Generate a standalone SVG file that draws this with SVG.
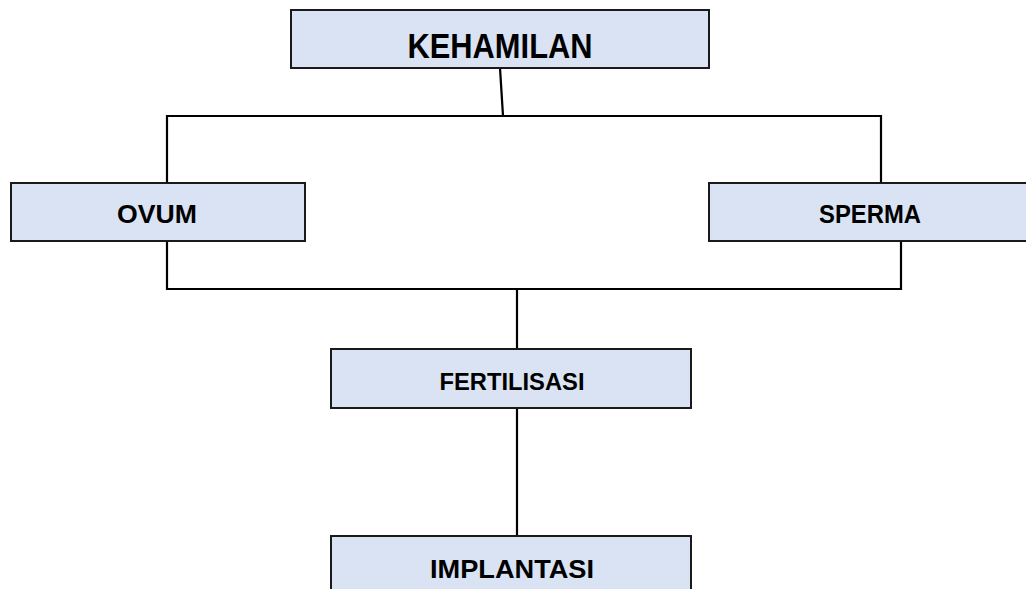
<svg xmlns="http://www.w3.org/2000/svg" width="1026" height="589" viewBox="0 0 1026 589">
<style>
.box{fill:#DAE3F3;stroke:#1a1a1a;stroke-width:2}
.lbl{font-family:"Liberation Sans",Arial,sans-serif;font-weight:bold;fill:#000;text-anchor:middle}
.conn{fill:none;stroke:#000;stroke-width:2.2}
</style>
<rect width="1026" height="589" fill="#fff"/>
<g id="connectors">
<polyline class="conn" points="500,68 503,116"/>
<polyline class="conn" points="167,183 167,116 881,116 881,183"/>
<polyline class="conn" points="167,241 167,289 901,289 901,241"/>
<polyline class="conn" points="517,289 517,349"/>
<polyline class="conn" points="517,408 517,536"/>
</g>
<g id="kehamilan">
<rect class="box" x="291" y="10" width="418" height="58"/>
<text class="lbl" x="500" y="58" font-size="35" textLength="185" lengthAdjust="spacingAndGlyphs">KEHAMILAN</text>
</g>
<g id="ovum">
<rect class="box" x="11" y="183" width="294" height="58"/>
<text class="lbl" x="157" y="223" font-size="25" textLength="80" lengthAdjust="spacingAndGlyphs">OVUM</text>
</g>
<g id="sperma">
<rect class="box" x="709" y="183" width="330" height="58"/>
<text class="lbl" x="870" y="223" font-size="25" textLength="102" lengthAdjust="spacingAndGlyphs">SPERMA</text>
</g>
<g id="fertilisasi">
<rect class="box" x="331" y="349" width="360" height="59"/>
<text class="lbl" x="512" y="390" font-size="24" textLength="145" lengthAdjust="spacingAndGlyphs">FERTILISASI</text>
</g>
<g id="implantasi">
<rect class="box" x="331" y="536" width="360" height="70"/>
<text class="lbl" x="512" y="578" font-size="25" textLength="164" lengthAdjust="spacingAndGlyphs">IMPLANTASI</text>
</g>
</svg>
